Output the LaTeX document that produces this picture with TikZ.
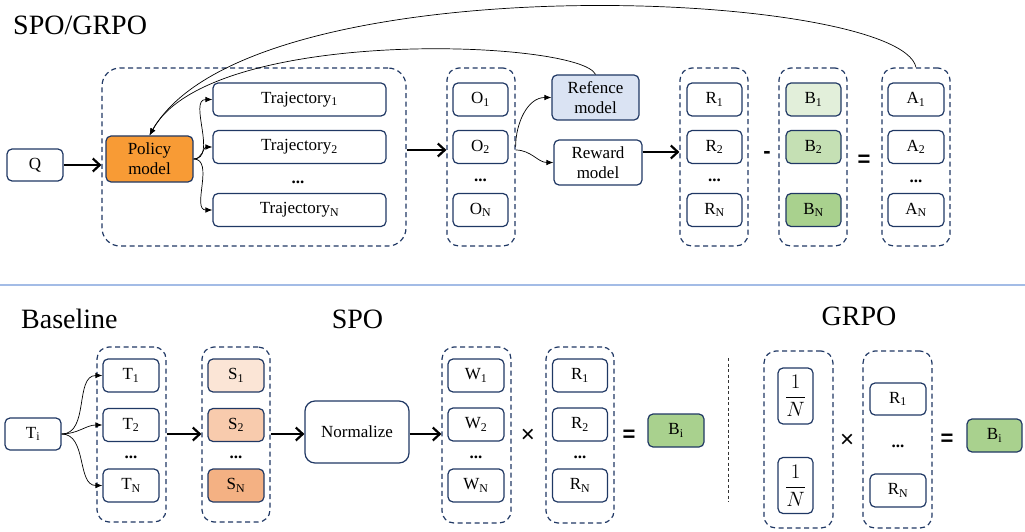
\documentclass[tikz,border=0pt]{standalone}
\usepackage{fontspec}
\setmainfont{Liberation Serif}
\newfontfamily\opsans{Liberation Sans}
\usetikzlibrary{arrows.meta,calc}
\definecolor{navy}{HTML}{203864}
\definecolor{polorange}{HTML}{F89B35}
\definecolor{refblue}{HTML}{DAE3F3}
\definecolor{gA}{HTML}{E2EFDA}
\definecolor{gB}{HTML}{C5E0B4}
\definecolor{gC}{HTML}{A9D18E}
\definecolor{oA}{HTML}{FBE5D6}
\definecolor{oB}{HTML}{F8CBAD}
\definecolor{oC}{HTML}{F4B183}
\definecolor{sepblue}{HTML}{A3BCE6}
\newcommand\boxfont{\fontsize{17}{20}\selectfont}
\newcommand\bigtitlefont{\fontsize{28}{32}\selectfont}
\tikzset{
 bx/.style={draw=navy, line width=1.2pt, rounded corners=5pt, fill=white, inner sep=0pt, font=\boxfont, align=center},
 sbx/.style={bx, minimum width=56pt, minimum height=33pt},
 grp/.style={draw=navy, line width=1.2pt, dash pattern=on 5pt off 3.5pt, rounded corners=12pt, inner sep=0pt},
 thk/.style={line width=2.2pt, -{Straight Barb[length=7pt,width=13pt]}},
 thn/.style={line width=0.7pt, -{Latex[length=7pt,width=5.5pt]}},
 dts/.style={font=\boxfont\bfseries, inner sep=0pt},
 opr/.style={font=\opsans\fontsize{24}{26}\selectfont, inner sep=0pt},
 eqop/.style={font=\opsans\bfseries\fontsize{22}{26}\selectfont, inner sep=0pt},
 frc/.style={bx, font=\fontsize{20}{24}\selectfont, minimum width=35pt, minimum height=56pt},
 ttl/.style={font=\bigtitlefont, inner sep=0pt},
}
\begin{document}
\begin{tikzpicture}[x=1pt,y=-1pt]
\useasboundingbox (0,0) rectangle (1025,532);
% ---------------- top ----------------
\node[ttl, anchor=base west] (title) at (13,35) {SPO/GRPO};
\node[bx, minimum width=56pt, minimum height=32pt] (Q) at (35,165) {Q};
\node[grp, rounded corners=18pt, minimum width=304pt, minimum height=178pt] (big) at (254,157) {};
\node[bx, fill=polorange, minimum width=87pt, minimum height=46pt] (pol) at (149.5,159) {Policy\\model};
\node[bx, minimum width=173pt, minimum height=33pt] (tr1) at (299.5,99.5) {Trajectory\textsubscript{1}};
\node[bx, minimum width=173pt, minimum height=33pt] (tr2) at (299.5,147) {Trajectory\textsubscript{2}};
\node[dts] (trd) at (298,182) {...};
\node[bx, minimum width=173pt, minimum height=33pt] (trN) at (299.5,210) {Trajectory\textsubscript{N}};

\node[grp, minimum width=68pt, minimum height=178pt] (Ocol) at (481,157) {};
\node[sbx, minimum width=55pt] (O1) at (480.5,99.5) {O\textsubscript{1}};
\node[sbx, minimum width=55pt] (O2) at (480.5,147) {O\textsubscript{2}};
\node[dts] (Od) at (480.5,180) {...};
\node[sbx, minimum width=55pt] (ON) at (480.5,210) {O\textsubscript{N}};

\node[bx, fill=refblue, minimum width=87pt, minimum height=45pt] (ref) at (595.5,97.5) {Refence\\model};
\node[bx, minimum width=88pt, minimum height=45pt] (rew) at (598,162.5) {Reward\\model};

\node[grp, minimum width=68pt, minimum height=178pt] (Rcol) at (714,157) {};
\node[sbx, minimum width=55pt] (R1) at (714.5,99.5) {R\textsubscript{1}};
\node[sbx, minimum width=55pt] (R2) at (714.5,147) {R\textsubscript{2}};
\node[dts] (Rd) at (714.5,180) {...};
\node[sbx, minimum width=55pt] (RN) at (714.5,210) {R\textsubscript{N}};

\node[eqop] (minus) at (767,155) {-};

\node[grp, minimum width=68pt, minimum height=178pt] (Bcol) at (813,157) {};
\node[sbx, minimum width=55pt, fill=gA] (B1) at (813.5,99.5) {B\textsubscript{1}};
\node[sbx, minimum width=55pt, fill=gB] (B2) at (813.5,147) {B\textsubscript{2}};
\node[sbx, minimum width=55pt, fill=gC] (BN) at (813.5,210) {B\textsubscript{N}};

\node[eqop] (eqtop) at (864,161) {=};

\node[grp, minimum width=68pt, minimum height=178pt] (Acol) at (916,157) {};
\node[sbx, minimum width=56pt] (A1) at (916,99.5) {A\textsubscript{1}};
\node[sbx, minimum width=56pt] (A2) at (916,147) {A\textsubscript{2}};
\node[dts] (Ad) at (916,181) {...};
\node[sbx, minimum width=56pt] (AN) at (916,210) {A\textsubscript{N}};

\coordinate (y150) at (0,150);
\coordinate (y152) at (0,152);
\draw[thk] (Q.east) -- (big.west |- Q.east);
\draw[thn] (pol.east) to[out=0,in=180] (tr1.west);
\draw[thn] (pol.east) to[out=0,in=180] (tr2.west);
\draw[thn] (pol.east) to[out=0,in=180] (trN.west);
\draw[thk] (big.east |- y150) -- (Ocol.west |- y150);
\draw[thn] (Ocol.east |- O2) to[out=90,in=180] (ref.west);
\draw[thn] (Ocol.east |- y150) to[out=0,in=180] (rew.west);
\draw[thk] (rew.east |- y152) -- (Rcol.west |- y152);
\draw[thn] (Acol.north) .. controls (900,-10) and (250,-40) .. (pol.north);
\draw[thn] (ref.north) .. controls (580,40) and (210,25) .. (pol.north);

% separator
\coordinate (sepL) at (0,285);
\coordinate (sepR) at (1025,285);
\draw[sepblue, line width=1.5pt] (sepL) -- (sepR);

% ---------------- bottom ----------------
\node[ttl, anchor=base west] (tbase) at (21,328) {Baseline};
\node[ttl, anchor=base] (tspo) at (357.5,328) {SPO};
\node[ttl, anchor=base] (tgrpo) at (859,325) {GRPO};

\node[bx, minimum width=56pt, minimum height=32pt] (Ti) at (33,434) {T\textsubscript{i}};

\node[grp, minimum width=69pt, minimum height=175pt] (Tcol) at (131.5,434.5) {};
\node[sbx] (T1) at (131,375.5) {T\textsubscript{1}};
\node[sbx] (T2) at (131,425) {T\textsubscript{2}};
\node[dts] (Td) at (131,457) {...};
\node[sbx] (TN) at (131,485.5) {T\textsubscript{N}};

\node[grp, minimum width=68pt, minimum height=175pt] (Scol) at (236,434.5) {};
\node[sbx, fill=oA] (S1) at (236,375.5) {S\textsubscript{1}};
\node[sbx, fill=oB] (S2) at (236,425) {S\textsubscript{2}};
\node[dts] (Sd) at (236,457) {...};
\node[sbx, fill=oC] (SN) at (236,485.5) {S\textsubscript{N}};

\node[bx, rounded corners=10pt, minimum width=104pt, minimum height=62pt] (norm) at (357,432) {Normalize};

\node[grp, minimum width=69pt, minimum height=176pt] (Wcol) at (476.5,435) {};
\node[sbx] (W1) at (476,375.5) {W\textsubscript{1}};
\node[sbx] (W2) at (476,424.5) {W\textsubscript{2}};
\node[dts] (Wd) at (476,457) {...};
\node[sbx] (WN) at (476,485.5) {W\textsubscript{N}};

\node[opr] (times1) at (528,436) {×};

\node[grp, minimum width=68pt, minimum height=176pt] (R2col) at (580,435) {};
\node[sbx, minimum width=55pt] (Rb1) at (580,375.5) {R\textsubscript{1}};
\node[sbx, minimum width=55pt] (Rb2) at (580,424.5) {R\textsubscript{2}};
\node[dts] (Rbd) at (580,457) {...};
\node[sbx, minimum width=55pt] (RbN) at (580,485.5) {R\textsubscript{N}};

\node[eqop] (eq1) at (629,436) {=};
\node[sbx, fill=gC] (Bi1) at (676,430.5) {B\textsubscript{i}};

\draw[thn] (Ti.east) to[out=0,in=180] (T1.west);
\draw[thn] (Ti.east) to[out=0,in=180] (T2.west);
\draw[thn] (Ti.east) to[out=0,in=180] (TN.west);
\draw[thk] (Tcol.east |- Ti) -- (Scol.west |- Ti);
\draw[thk] (Scol.east |- Ti) -- (norm.west |- Ti);
\draw[thk] (norm.east |- Ti) -- (Wcol.west |- Ti);

% vertical divider
\coordinate (vt) at (728,358);
\coordinate (vb) at (728,502);
\draw[black!80, line width=1pt, dash pattern=on 3pt off 2.5pt] (vt) -- (vb);

\node[grp, minimum width=69pt, minimum height=177pt] (Ncol) at (798.5,439.5) {};
\node[frc] (N1) at (795.5,396) {$\displaystyle\frac{1}{N}$};
\node[frc] (N2) at (795.5,485.5) {$\displaystyle\frac{1}{N}$};

\node[opr] (times2) at (847,441) {×};

\node[grp, minimum width=69pt, minimum height=177pt] (R3col) at (897.5,439.5) {};
\node[sbx, minimum width=56pt, minimum height=32pt] (Rc1) at (898,399) {R\textsubscript{1}};
\node[dts] (Rcd) at (898,446) {...};
\node[sbx, minimum width=56pt, minimum height=33pt] (RcN) at (898,490.5) {R\textsubscript{N}};

\node[eqop] (eq2) at (947,440) {=};
\node[sbx, minimum width=55pt, fill=gC] (Bi2) at (994.5,435.5) {B\textsubscript{i}};
\end{tikzpicture}
\end{document}
